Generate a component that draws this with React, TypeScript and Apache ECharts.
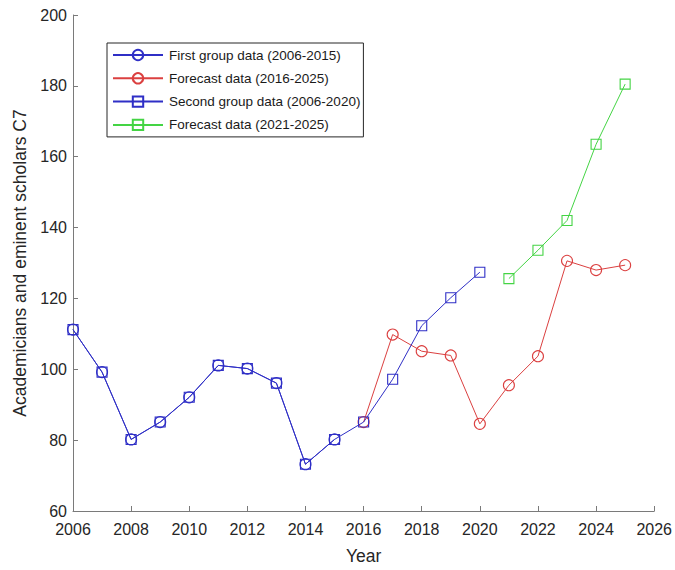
import React, { useEffect, useRef } from "react";
import * as echarts from "echarts";

const years1 = [2006, 2007, 2008, 2009, 2010, 2011, 2012, 2013, 2014, 2015];
const first = [111.2, 99.2, 80.2, 85.1, 92.1, 101.1, 100.2, 96.1, 73.2, 80.2];

const years2 = [2016, 2017, 2018, 2019, 2020, 2021, 2022, 2023, 2024, 2025];
const forecast1 = [85.1, 109.8, 105.1, 103.9, 84.6, 95.5, 103.7, 130.6, 128.0, 129.4];

const years3 = [2006, 2007, 2008, 2009, 2010, 2011, 2012, 2013, 2014, 2015, 2016, 2017, 2018, 2019, 2020];
const second = [111.2, 99.2, 80.2, 85.1, 92.1, 101.1, 100.2, 96.1, 73.2, 80.2, 85.1, 97.2, 112.3, 120.2, 127.4];

const years4 = [2021, 2022, 2023, 2024, 2025];
const forecast2 = [125.6, 133.6, 142.0, 163.5, 180.5];

const names = [
  "First group data (2006-2015)",
  "Forecast data (2016-2025)",
  "Second group data (2006-2020)",
  "Forecast data (2021-2025)",
];

const BLUE = "#2f2fc6";
const RED = "#db4040";
const GREEN = "#44d444";
const FONT = "'Liberation Sans', Arial, Helvetica, sans-serif";

function pairs(xs: number[], ys: number[]) {
  return xs.map((x, i) => [x, ys[i]]);
}

function mkSeries(name: string, xs: number[], ys: number[], color: string, symbol: string, size: number) {
  return {
    name,
    type: "line",
    data: pairs(xs, ys),
    symbol,
    symbolSize: size,
    showAllSymbol: true,
    lineStyle: { color, width: 1 },
    itemStyle: { color: "rgba(255,255,255,0)", borderColor: color, borderWidth: 1.1 },
    emphasis: { disabled: true },
  };
}

export default function App() {
  const ref = useRef<HTMLDivElement>(null);
  useEffect(() => {
    if (!ref.current) return;
    const chart = echarts.init(ref.current, null, { renderer: "svg" });
    const axisCommon = {
      axisLine: { show: true, lineStyle: { color: "#7a7a7a", width: 1 } },
      axisTick: { show: true, inside: true, length: 5, lineStyle: { color: "#7a7a7a" } },
      splitLine: { show: false },
      nameTextStyle: { color: "#262626", fontSize: 17.5, fontFamily: FONT },
    };
    chart.setOption({
      animation: false,
      backgroundColor: "#ffffff",
      grid: { left: 73, right: 18, top: 15, bottom: 55, containLabel: false },
      xAxis: {
        type: "value",
        min: 2006,
        max: 2026,
        interval: 2,
        name: "Year",
        nameLocation: "middle",
        nameGap: 36,
        ...axisCommon,
        axisLabel: {
          color: "#262626",
          fontSize: 16,
          fontFamily: FONT,
          margin: 10,
          formatter: (v: number) => String(v),
        },
      },
      yAxis: {
        type: "value",
        min: 60,
        max: 200,
        interval: 20,
        name: "Academicians and eminent scholars C7",
        nameLocation: "middle",
        nameGap: 35,
        ...axisCommon,
        axisLabel: { color: "#262626", fontSize: 16, fontFamily: FONT, margin: 6 },
      },
      legend: {
        orient: "vertical",
        left: 107,
        top: 43,
        data: names,
        itemWidth: 50,
        itemHeight: 13,
        itemGap: 9.3,
        padding: [5, 3, 5, 5],
        borderColor: "#262626",
        borderWidth: 1,
        backgroundColor: "#ffffff",
        selectedMode: false,
        textStyle: {
          color: "#1a1a1a",
          fontSize: 13.5,
          lineHeight: 13,
          fontFamily: FONT,
          padding: [0, 0, 0, 1],
        },
      },
      series: [
        mkSeries(names[0], years1, first, BLUE, "circle", 11),
        mkSeries(names[1], years2, forecast1, RED, "circle", 11),
        mkSeries(names[2], years3, second, BLUE, "rect", 10),
        mkSeries(names[3], years4, forecast2, GREEN, "rect", 10),
      ],
    });
    return () => chart.dispose();
  }, []);
  return (
    <div
      ref={ref}
      style={{ position: "fixed", left: 0, top: 0, width: 675, height: 570, background: "#fff" }}
    />
  );
}
